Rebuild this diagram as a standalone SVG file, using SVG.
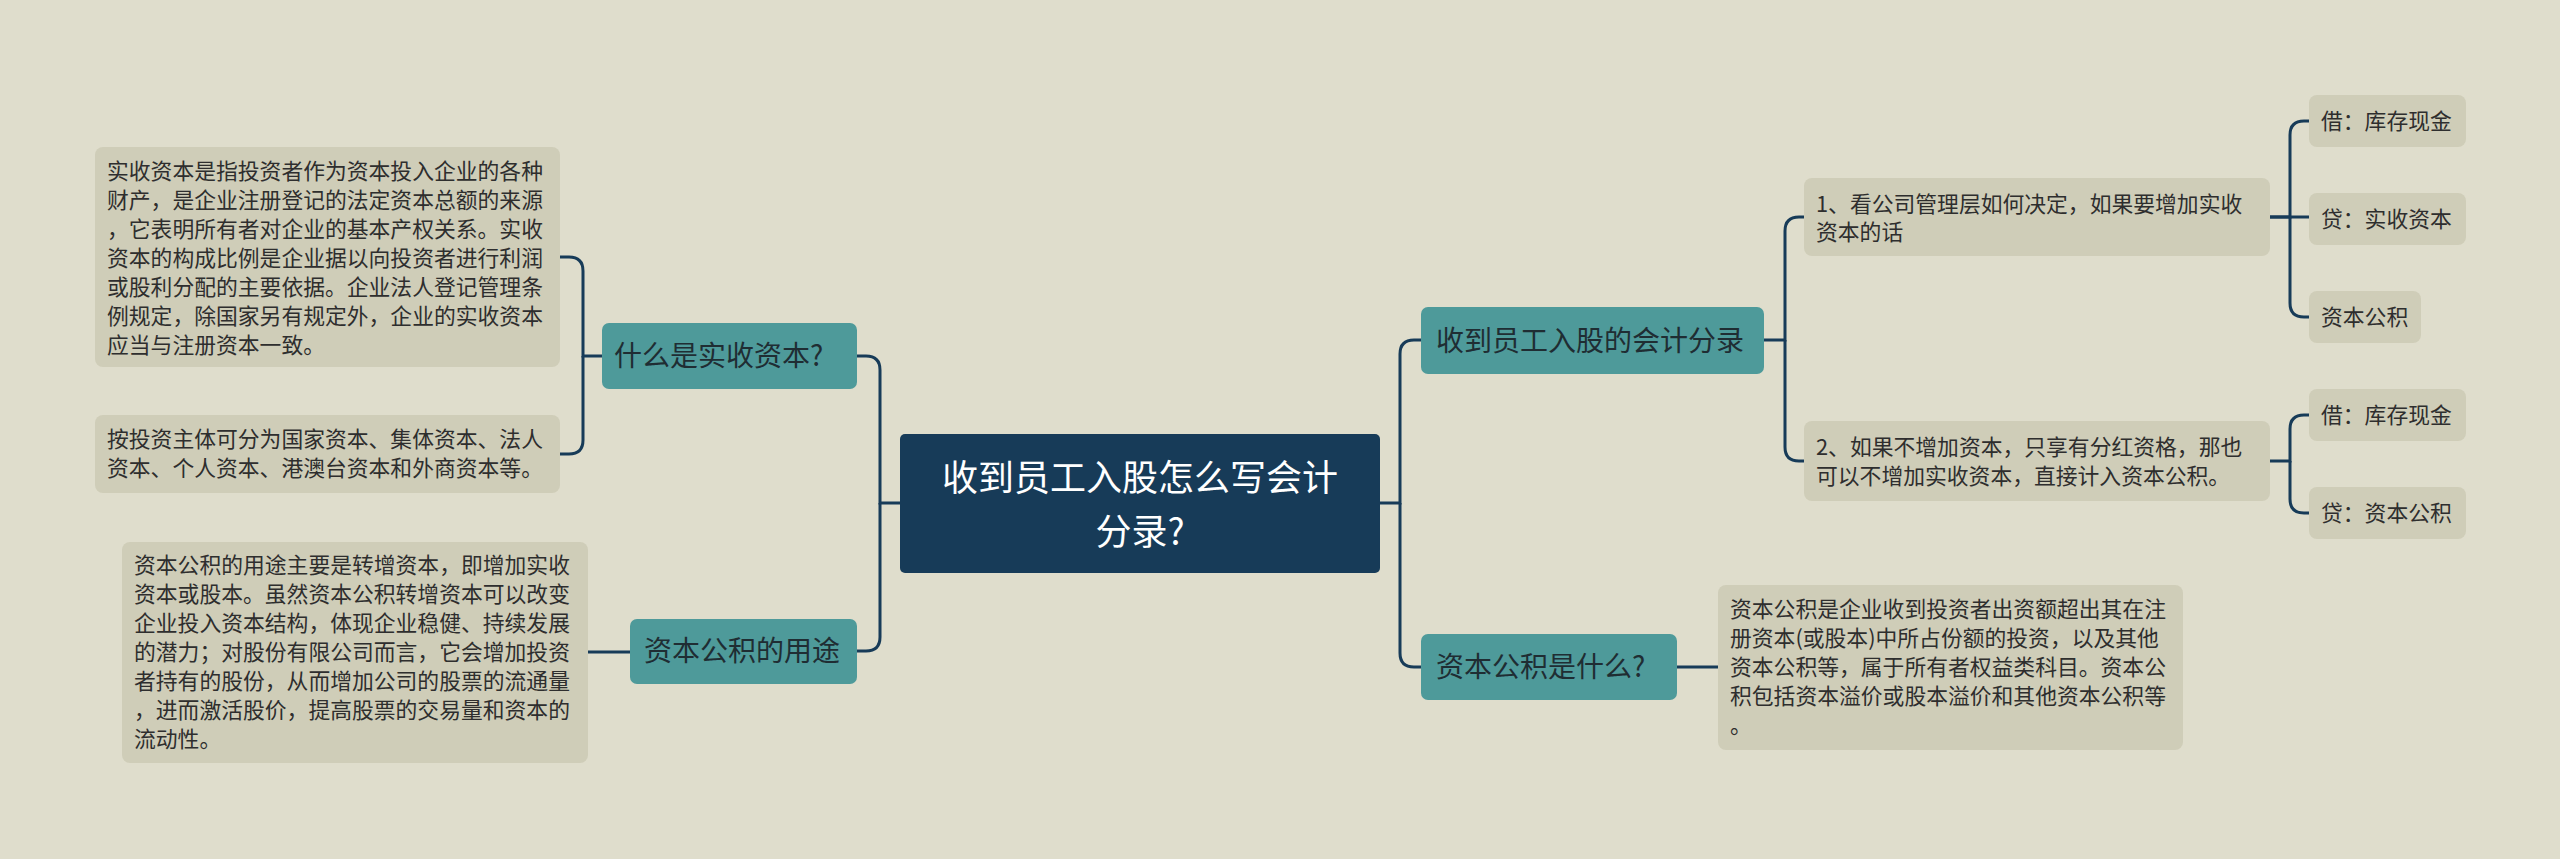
<svg xmlns="http://www.w3.org/2000/svg" width="2560" height="859" viewBox="0 0 2560 859">
<style>
text{font-family:"Noto Sans CJK SC","Liberation Sans",sans-serif;}
.t{fill:#cfcdb8;}
.b{fill:#4e9a9a;}
.tt{font-size:21.8px;fill:#2e2e2e;}
.bt{font-size:28px;fill:#1f2d33;}
.c path{fill:none;stroke:#173b58;stroke-width:3;}
</style>
<rect width="2560" height="859" fill="#dfddcc"/>
<g class="c">
<path d="M900 503 H880 V370 Q880 356 866 356 H857"/>
<path d="M880 503 V637 Q880 651 866 651 H857"/>
<path d="M1380 503 H1400 V354 Q1400 340 1414 340 H1421"/>
<path d="M1400 503 V653 Q1400 667 1414 667 H1421"/>
<path d="M1764 340 H1785 V231 Q1785 217 1799 217 H1804"/>
<path d="M1785 340 V447 Q1785 461 1799 461 H1804"/>
<path d="M2270 217 H2290 V135 Q2290 121 2304 121 H2309"/>
<path d="M2270 217 H2309"/>
<path d="M2290 217 V303 Q2290 317 2304 317 H2309"/>
<path d="M2270 461 H2290 V429 Q2290 415 2304 415 H2309"/>
<path d="M2290 461 V499 Q2290 513 2304 513 H2309"/>
<path d="M602 356 H583 V271 Q583 257 569 257 H560"/>
<path d="M583 356 V440 Q583 454 569 454 H560"/>
<path d="M630 652 H588"/>
<path d="M1677 667 H1718"/>
</g>
<g id="center"><rect x="900" y="434" width="480" height="139" rx="5" fill="#173b58"/>
<text x="1140" y="491" font-size="36" fill="#fff" text-anchor="middle">收到员工入股怎么写会计</text>
<text x="1140" y="545" font-size="36" fill="#fff" text-anchor="middle">分录?</text></g>
<g id="b1"><rect class="b" x="602" y="323" width="255" height="66" rx="7"/><text class="bt" x="614" y="366">什么是实收资本?</text></g>
<g id="b2"><rect class="b" x="630" y="619" width="227" height="65" rx="7"/><text class="bt" x="644" y="661">资本公积的用途</text></g>
<g id="b3"><rect class="b" x="1421" y="307" width="343" height="67" rx="7"/><text class="bt" x="1436" y="351">收到员工入股的会计分录</text></g>
<g id="b4"><rect class="b" x="1421" y="634" width="256" height="66" rx="7"/><text class="bt" x="1436" y="677">资本公积是什么?</text></g>
<g id="l1"><rect class="t" x="95" y="147" width="465" height="220" rx="8"/>
<text class="tt"><tspan x="107" y="179">实收资本是指投资者作为资本投入企业的各种</tspan><tspan x="107" y="208">财产，是企业注册登记的法定资本总额的来源</tspan><tspan x="107" y="237">，它表明所有者对企业的基本产权关系。实收</tspan><tspan x="107" y="266">资本的构成比例是企业据以向投资者进行利润</tspan><tspan x="107" y="295">或股利分配的主要依据。企业法人登记管理条</tspan><tspan x="107" y="324">例规定，除国家另有规定外，企业的实收资本</tspan><tspan x="107" y="353">应当与注册资本一致。</tspan></text></g>
<g id="l2"><rect class="t" x="95" y="415" width="465" height="78" rx="8"/>
<text class="tt"><tspan x="107" y="447">按投资主体可分为国家资本、集体资本、法人</tspan><tspan x="107" y="476">资本、个人资本、港澳台资本和外商资本等。</tspan></text></g>
<g id="l3"><rect class="t" x="122" y="542" width="466" height="221" rx="8"/>
<text class="tt"><tspan x="134" y="573">资本公积的用途主要是转增资本，即增加实收</tspan><tspan x="134" y="602">资本或股本。虽然资本公积转增资本可以改变</tspan><tspan x="134" y="631">企业投入资本结构，体现企业稳健、持续发展</tspan><tspan x="134" y="660">的潜力；对股份有限公司而言，它会增加投资</tspan><tspan x="134" y="689">者持有的股份，从而增加公司的股票的流通量</tspan><tspan x="134" y="718">，进而激活股价，提高股票的交易量和资本的</tspan><tspan x="134" y="747">流动性。</tspan></text></g>
<g id="r1"><rect class="t" x="1804" y="178" width="466" height="78" rx="8"/>
<text class="tt"><tspan x="1816" y="212">1、看公司管理层如何决定，如果要增加实收</tspan><tspan x="1816" y="240">资本的话</tspan></text></g>
<g id="r2"><rect class="t" x="1804" y="421" width="466" height="80" rx="8"/>
<text class="tt"><tspan x="1816" y="455">2、如果不增加资本，只享有分红资格，那也</tspan><tspan x="1816" y="484">可以不增加实收资本，直接计入资本公积。</tspan></text></g>
<g id="r3"><rect class="t" x="1718" y="585" width="465" height="165" rx="8"/>
<text class="tt"><tspan x="1730" y="617">资本公积是企业收到投资者出资额超出其在注</tspan><tspan x="1730" y="646">册资本(或股本)中所占份额的投资，以及其他</tspan><tspan x="1730" y="675">资本公积等，属于所有者权益类科目。资本公</tspan><tspan x="1730" y="704">积包括资本溢价或股本溢价和其他资本公积等</tspan><tspan x="1730" y="733">。</tspan></text></g>
<g id="k1"><rect class="t" x="2309" y="95" width="157" height="52" rx="8"/><text class="tt" x="2321" y="129">借：库存现金</text></g>
<g id="k2"><rect class="t" x="2309" y="193" width="157" height="52" rx="8"/><text class="tt" x="2321" y="227">贷：实收资本</text></g>
<g id="k3"><rect class="t" x="2309" y="291" width="112" height="52" rx="8"/><text class="tt" x="2321" y="325">资本公积</text></g>
<g id="k4"><rect class="t" x="2309" y="389" width="157" height="52" rx="8"/><text class="tt" x="2321" y="423">借：库存现金</text></g>
<g id="k5"><rect class="t" x="2309" y="487" width="157" height="52" rx="8"/><text class="tt" x="2321" y="521">贷：资本公积</text></g>
</svg>
